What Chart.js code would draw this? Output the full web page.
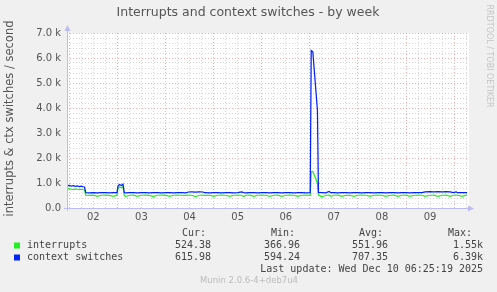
<!DOCTYPE html>
<html>
<head>
<meta charset="utf-8">
<script src="https://cdn.jsdelivr.net/npm/chart.js@4"></script>
<style>
  body { margin: 0; background: #f0f0f0; }
  canvas { display: block; }
</style>
</head>
<body>
<canvas id="graficoIrq" width="497" height="292"></canvas>
<script>
// hours since Tue Dec 2 00:00
const hours = [
  -1.15, 0, 1, 2, 3, 4, 5, 6, 7, 7.6, 8.2, 10, 12, 14, 16, 18, 20, 22, 23.8,
  24.3, 25, 26, 26.8, 27.4, 28, 30, 32, 34, 36, 38, 40, 42, 44, 46, 48, 50,
  52, 54, 56, 58, 59.5, 61, 63, 65, 66.8, 67.4, 70, 72, 74, 76, 78, 80, 82,
  84, 86, 87, 88, 90, 92, 94, 96, 98, 100, 102, 104, 106, 108, 110, 112, 114,
  116, 118, 120.2, 120.7, 121.5, 123.8, 124.3, 126, 128, 129.6, 130.5, 132,
  134, 136, 138, 140, 142, 144, 146, 148, 150, 152, 154, 156, 158, 160, 162,
  164, 166, 168, 170, 172, 174, 176, 177.5, 180, 182, 184, 186, 188, 190,
  191.5, 193, 193.8, 196, 198.42
];
const interrupts = [
  760, 770, 750, 740, 760, 750, 740, 750, 730, 720, 515, 510, 512, 465, 510,
  512, 508, 462, 512,
  790, 840, 820, 850, 515, 460, 510, 512, 465, 510, 512, 508, 460, 510, 512,
  512, 465, 510, 512, 510, 508, 512, 510, 460, 510, 512, 510, 510, 465, 510,
  512, 510, 462, 510, 512, 510, 460, 510, 512, 465, 510, 512, 510, 462, 510,
  512, 465, 510, 512, 510, 465, 510, 512, 510, 1450, 1460, 1000, 515, 450,
  510, 512, 465, 510, 512, 465, 510, 510, 462, 510, 512, 510, 465, 510, 512,
  510, 462, 510, 512, 465, 510, 512, 465, 510, 512, 510, 465, 510, 512, 465,
  510, 512, 465, 510, 512, 510, 465, 524
];
const contextSwitches = [
  890, 900, 880, 890, 870, 880, 860, 870, 850, 840, 615, 610, 615, 610, 612,
  615, 610, 612, 615,
  880, 940, 900, 950, 620, 610, 612, 615, 610, 612, 615, 610, 612, 615, 610,
  612, 615, 610, 612, 615, 610, 640, 645, 640, 645, 640, 612, 610, 615, 612,
  610, 615, 612, 610, 615, 640, 612, 610, 615, 612, 610, 615, 612, 610, 615,
  612, 610, 615, 612, 610, 615, 612, 610, 615, 6300, 6250, 3900, 620, 615,
  610, 660, 612, 615, 610, 612, 615, 610, 612, 615, 610, 612, 615, 610, 612,
  615, 610, 612, 615, 610, 612, 615, 610, 612, 615, 612, 645, 650, 645, 650,
  645, 650, 645, 612, 645, 612, 615, 616
];
const dayLabels = ['02', '03', '04', '05', '06', '07', '08', '09'];
const yTicks = [];
for (let v = 0; v <= 7000; v += 200) yTicks.push(v);
const xTicks = [];
for (let h = 0; h <= 198; h += 6) xTicks.push(h);

const legendRows = [
  { name: 'interrupts', color: '#22f022', cur: '524.38', min: '366.96', avg: '551.96', max: '1.55k' },
  { name: 'context switches', color: '#0022ff', cur: '615.98', min: '594.24', avg: '707.35', max: '6.39k' }
];

const majorGrid = 'rgba(235,140,140,0.7)';
const minorGrid = 'rgba(200,200,200,0.75)';
const axisColor = '#bcbcf0';

const munin = {
  id: 'munin',
  beforeDraw(chart) {
    const { ctx, chartArea: a } = chart;
    ctx.save();
    ctx.fillStyle = '#f0f0f0';
    ctx.fillRect(0, 0, chart.width, chart.height);
    ctx.fillStyle = '#ffffff';
    ctx.fillRect(a.left, a.top, a.right - a.left + 2, a.bottom - a.top);
    ctx.restore();
  },
  afterDraw(chart) {
    const { ctx, chartArea: a } = chart;
    ctx.save();
    // axes with arrows
    ctx.strokeStyle = axisColor;
    ctx.fillStyle = axisColor;
    ctx.lineWidth = 1;
    ctx.beginPath();
    ctx.moveTo(a.left + 0.5, a.bottom + 3);
    ctx.lineTo(a.left + 0.5, a.top - 5);
    ctx.moveTo(a.left - 3, a.bottom + 0.5);
    ctx.lineTo(a.right + 3, a.bottom + 0.5);
    ctx.stroke();
    ctx.beginPath();
    ctx.moveTo(a.left + 0.5, a.top - 8);
    ctx.lineTo(a.left - 2.5, a.top - 2);
    ctx.lineTo(a.left + 3.5, a.top - 2);
    ctx.fill();
    ctx.beginPath();
    ctx.moveTo(a.right + 7, a.bottom + 0.5);
    ctx.lineTo(a.right + 1, a.bottom - 2.5);
    ctx.lineTo(a.right + 1, a.bottom + 3.5);
    ctx.fill();

    // title
    ctx.fillStyle = '#555';
    ctx.font = '12.5px "DejaVu Sans"';
    ctx.textAlign = 'center';
    ctx.textBaseline = 'middle';
    ctx.fillText('Interrupts and context switches - by week', 248, 13);

    // y title
    ctx.save();
    ctx.translate(10, (a.top + a.bottom) / 2 - 2);
    ctx.rotate(-Math.PI / 2);
    ctx.font = '11.5px "DejaVu Sans"';
    ctx.fillStyle = '#555';
    ctx.fillText('interrupts & ctx switches / second', 0, 0);
    ctx.restore();

    // rrdtool credit
    ctx.save();
    ctx.translate(489, 56);
    ctx.rotate(Math.PI / 2);
    ctx.fillStyle = '#c4c4c4';
    ctx.font = '8px "DejaVu Sans"';
    ctx.fillText('RRDTOOL / TOBI OETIKER', 0, 0);
    ctx.restore();

    // legend
    ctx.font = '10px "DejaVu Sans Mono"';
    ctx.fillStyle = '#444';
    ctx.textAlign = 'left';
    ctx.fillText('Cur:', 182, 233);
    ctx.fillText('Min:', 271, 233);
    ctx.fillText('Avg:', 359, 233);
    ctx.fillText('Max:', 448, 233);
    legendRows.forEach((row, i) => {
      const y = 245.5 + i * 12;
      ctx.fillStyle = row.color;
      ctx.fillRect(14, y - 3, 6, 6);
      ctx.fillStyle = '#444';
      ctx.textAlign = 'left';
      ctx.fillText(row.name, 27, y);
      ctx.textAlign = 'right';
      ctx.fillText(row.cur, 211, y);
      ctx.fillText(row.min, 300, y);
      ctx.fillText(row.avg, 388, y);
      ctx.fillText(row.max, 483, y);
    });
    ctx.textAlign = 'right';
    ctx.fillText('Last update: Wed Dec 10 06:25:19 2025', 483, 269.5);

    ctx.textAlign = 'center';
    ctx.fillStyle = '#bbbbbb';
    ctx.font = '8.5px "DejaVu Sans"';
    ctx.fillText('Munin 2.0.6-4+deb7u4', 249, 281);
    ctx.restore();
  }
};

const canvas = document.getElementById('graficoIrq');

new Chart(canvas, {
  type: 'line',
  data: {
    datasets: [
      {
        label: 'interrupts',
        data: hours.map((h, i) => ({ x: h, y: interrupts[i] })),
        borderColor: legendRows[0].color,
        borderWidth: 1.25,
        pointRadius: 0,
        order: 1
      },
      {
        label: 'context switches',
        data: hours.map((h, i) => ({ x: h, y: contextSwitches[i] })),
        borderColor: legendRows[1].color,
        borderWidth: 1.25,
        pointRadius: 0,
        order: 0
      }
    ]
  },
  options: {
    responsive: false,
    animation: false,
    events: [],
    layout: { padding: { top: 33, right: 30, bottom: 68, left: 0 } },
    plugins: { legend: { display: false }, tooltip: { enabled: false } },
    scales: {
      x: {
        type: 'linear',
        min: -1.15,
        max: 198.42,
        afterFit(scale) { scale.height = 16; },
        afterBuildTicks(scale) { scale.ticks = xTicks.map(v => ({ value: v })); },
        border: { display: false, dash: [1, 2] },
        grid: {
          drawTicks: false,
          color: (c) => (c.tick && c.tick.value % 24 === 0 ? majorGrid : minorGrid)
        },
        ticks: {
          autoSkip: false,
          maxRotation: 0,
          padding: 3,
          color: '#555',
          font: { family: 'DejaVu Sans', size: 10 },
          callback: (v) => ((v - 12) % 24 === 0 ? dayLabels[(v - 12) / 24] || '' : '')
        }
      },
      y: {
        min: 0,
        max: 7000,
        afterFit(scale) { scale.width = 67; },
        afterBuildTicks(scale) { scale.ticks = yTicks.map(v => ({ value: v })); },
        border: { display: false, dash: [1, 2] },
        grid: {
          drawTicks: false,
          color: (c) => (c.tick && c.tick.value % 1000 === 0 ? majorGrid : minorGrid)
        },
        ticks: {
          autoSkip: false,
          padding: 6,
          color: '#555',
          font: { family: 'DejaVu Sans', size: 10 },
          callback: (v) => {
            if (v === 0) return '0.0';
            return v % 1000 === 0 ? (v / 1000).toFixed(1) + ' k' : '';
          }
        }
      }
    }
  },
  plugins: [munin]
});
</script>
</body>
</html>
